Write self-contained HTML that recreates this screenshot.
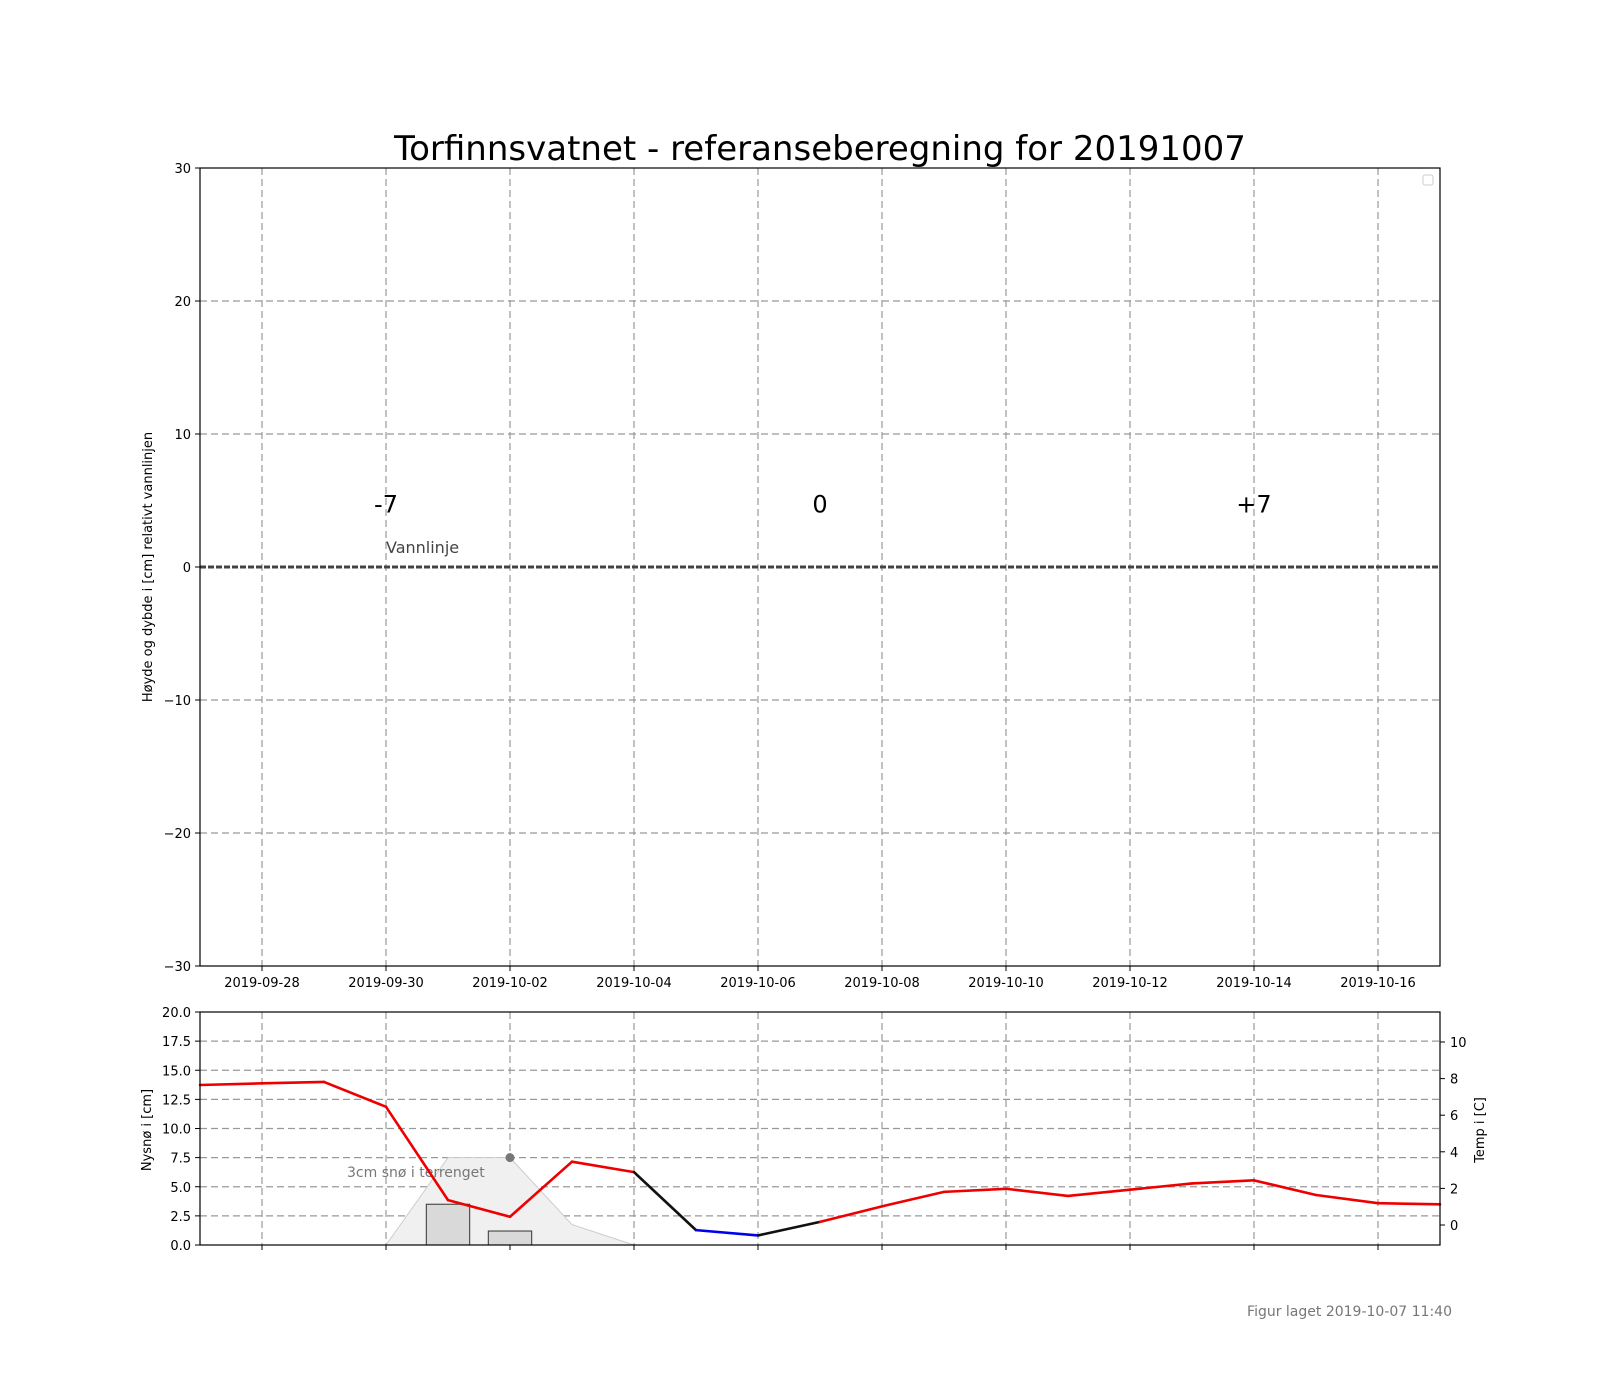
<!DOCTYPE html>
<html><head><meta charset="utf-8"><style>
html,body{margin:0;padding:0;background:#fff;}
svg{display:block;font-family:"DejaVu Sans","Liberation Sans",sans-serif;}
</style></head><body>
<svg id="fig" width="1600" height="1400" viewBox="0 0 1600 1400"></svg>
<script>
const dayLabels=["2019-09-28","2019-09-30","2019-10-02","2019-10-04","2019-10-06","2019-10-08","2019-10-10","2019-10-12","2019-10-14","2019-10-16"];
const dayTickIdx=[1,3,5,7,9,11,13,15,17,19];
const mainYTicks=[30,20,10,0,-10,-20,-30];
const snowTicks=[0,2.5,5,7.5,10,12.5,15,17.5,20];
const tempTicks=[0,2,4,6,8,10];
const tempDays=[0,1,2,3,4,5,6,7,8,9,10,11,12,13,14,15,16,17,18,19,20];
const tempVals=[7.65,7.74,7.82,6.46,1.36,0.45,3.46,2.89,-0.28,-0.57,0.17,1.02,1.81,1.98,1.59,1.93,2.27,2.44,1.64,1.19,1.13];
const barDays=[4,5];
const barVals=[3.5,1.2];
const terrDays=[3,4,5,6,7];
const terrVals=[0,7.5,7.5,1.75,0];
const dotDay=[5];const dotVal=[7.5];

const NS="http://www.w3.org/2000/svg";
const svg=document.getElementById('fig');
function mk(tag,attrs,parent){const e=document.createElementNS(NS,tag);for(const k in attrs)e.setAttribute(k,attrs[k]);(parent||svg).appendChild(e);return e;}
const L=200,R=1440,MT=168,MB=966,BT=1012,BB=1245;
const x=d=>L+(R-L)*d/20;
const ym=v=>MT+(30-v)*(MB-MT)/60;
const ys=v=>BB-v*(BB-BT)/20;
const yt=v=>1225-v*18.3;

let t=mk('text',{x:820,y:160,'text-anchor':'middle','font-size':34,fill:'#000'});t.textContent='Torfinnsvatnet - referanseberegning for 20191007';



dayTickIdx.forEach((d,i)=>{
 let g=mk('line',{x1:x(d),x2:x(d),y1:MT,y2:MB,stroke:'#999','stroke-dasharray':'7,4','stroke-width':1.2});
 
 
 mk('line',{x1:x(d),x2:x(d),y1:MB,y2:MB+5,stroke:'#000'});
 let l=mk('text',{x:x(d),y:MB+21,'text-anchor':'middle','font-size':13});l.textContent=dayLabels[i];
 
 
 let g2=mk('line',{x1:x(d),x2:x(d),y1:BT,y2:BB,stroke:'#999','stroke-dasharray':'7,4','stroke-width':1.2});
 
 
 mk('line',{x1:x(d),x2:x(d),y1:BB,y2:BB+5,stroke:'#000'});
});
mainYTicks.forEach(v=>{
 if(v!==30&&v!==-30&&v!==0){let g=mk('line',{x1:L,x2:R,y1:ym(v),y2:ym(v),stroke:'#999','stroke-dasharray':'7,4','stroke-width':1.2});
 
 }
 mk('line',{x1:L-5,x2:L,y1:ym(v),y2:ym(v),stroke:'#000'});
 let l=mk('text',{x:L-9,y:ym(v)+5,'text-anchor':'end','font-size':13});l.textContent=v<0?'\u2212'+(-v):String(v);
 
 
});
let wl=mk('line',{x1:L,x2:R,y1:ym(0),y2:ym(0),stroke:'#444','stroke-width':3,'stroke-dasharray':'6,2'});


let vt=mk('text',{x:386,y:553,'font-size':16,fill:'#444'});vt.textContent='Vannlinje';


[['-7',3],['0',10],['+7',17]].forEach(a=>{
 let e=mk('text',{x:x(a[1]),y:ym(5)+12,'text-anchor':'middle','font-size':24});e.textContent=a[0];
 
 
});
let fr=mk('rect',{x:L,y:MT,width:R-L,height:MB-MT,fill:'none',stroke:'#000','stroke-width':1.2});


let lg=mk('rect',{x:1423,y:175,width:10,height:10,rx:2,fill:'#fff',stroke:'#ccc'});


let yl=mk('text',{x:0,y:0,transform:'translate(152,567) rotate(-90)','text-anchor':'middle','font-size':13});yl.textContent='Høyde og dybde i [cm] relativt vannlinjen';



snowTicks.forEach(v=>{
 if(v!==0&&v!==20){let g=mk('line',{x1:L,x2:R,y1:ys(v),y2:ys(v),stroke:'#999','stroke-dasharray':'7,4','stroke-width':1.2});
 
 }
 mk('line',{x1:L-5,x2:L,y1:ys(v),y2:ys(v),stroke:'#000'});
 let l=mk('text',{x:L-9,y:ys(v)+5,'text-anchor':'end','font-size':13});l.textContent=v.toFixed(1);
 
 
});
tempTicks.forEach(v=>{
 mk('line',{x1:R,x2:R+5,y1:yt(v),y2:yt(v),stroke:'#000'});
 let l=mk('text',{x:R+10,y:yt(v)+5,'font-size':13});l.textContent=String(v);
 
 
});
let tp=terrDays.map((d,i)=>x(d)+','+ys(terrVals[i])).join(' ');
let ta=mk('polygon',{points:tp,fill:'#f0f0f0',stroke:'#ccc','stroke-width':1});


barDays.forEach((d,i)=>{
 let w=(x(1)-x(0))*0.7;
 let b=mk('rect',{x:x(d)-w/2,y:ys(barVals[i]),width:w,height:ys(0)-ys(barVals[i]),fill:'#d9d9d9',stroke:'#333','stroke-width':1});
 
 
});
dotDay.forEach((d,i)=>{
 let c=mk('circle',{cx:x(d),cy:ys(dotVal[i]),r:4.5,fill:'#777'});
 
 
});
let st=mk('text',{x:347,y:1177,'font-size':14,fill:'#777'});st.textContent='3cm snø i terrenget';


for(let i=0;i<tempDays.length-1;i++){
 const a=tempVals[i],b=tempVals[i+1];
 const col=(a>0&&b>0)?'#e00':(a<0&&b<0)?'#00e':'#111';
 let s=mk('line',{x1:x(tempDays[i]),y1:yt(a),x2:x(tempDays[i+1]),y2:yt(b),stroke:col,'stroke-width':2.6,'stroke-linecap':'round'});
 
 
}
let bf=mk('rect',{x:L,y:BT,width:R-L,height:BB-BT,fill:'none',stroke:'#000','stroke-width':1.2});


let sl=mk('text',{x:0,y:0,transform:'translate(151,1130) rotate(-90)','text-anchor':'middle','font-size':13});sl.textContent='Nysnø i [cm]';


let tl=mk('text',{x:0,y:0,transform:'translate(1484,1130) rotate(-90)','text-anchor':'middle','font-size':13});tl.textContent='Temp i [C]';


let ft=mk('text',{x:1452,y:1316,'text-anchor':'end','font-size':14,fill:'#777'});ft.textContent='Figur laget 2019-10-07 11:40';


</script>
</body></html>
